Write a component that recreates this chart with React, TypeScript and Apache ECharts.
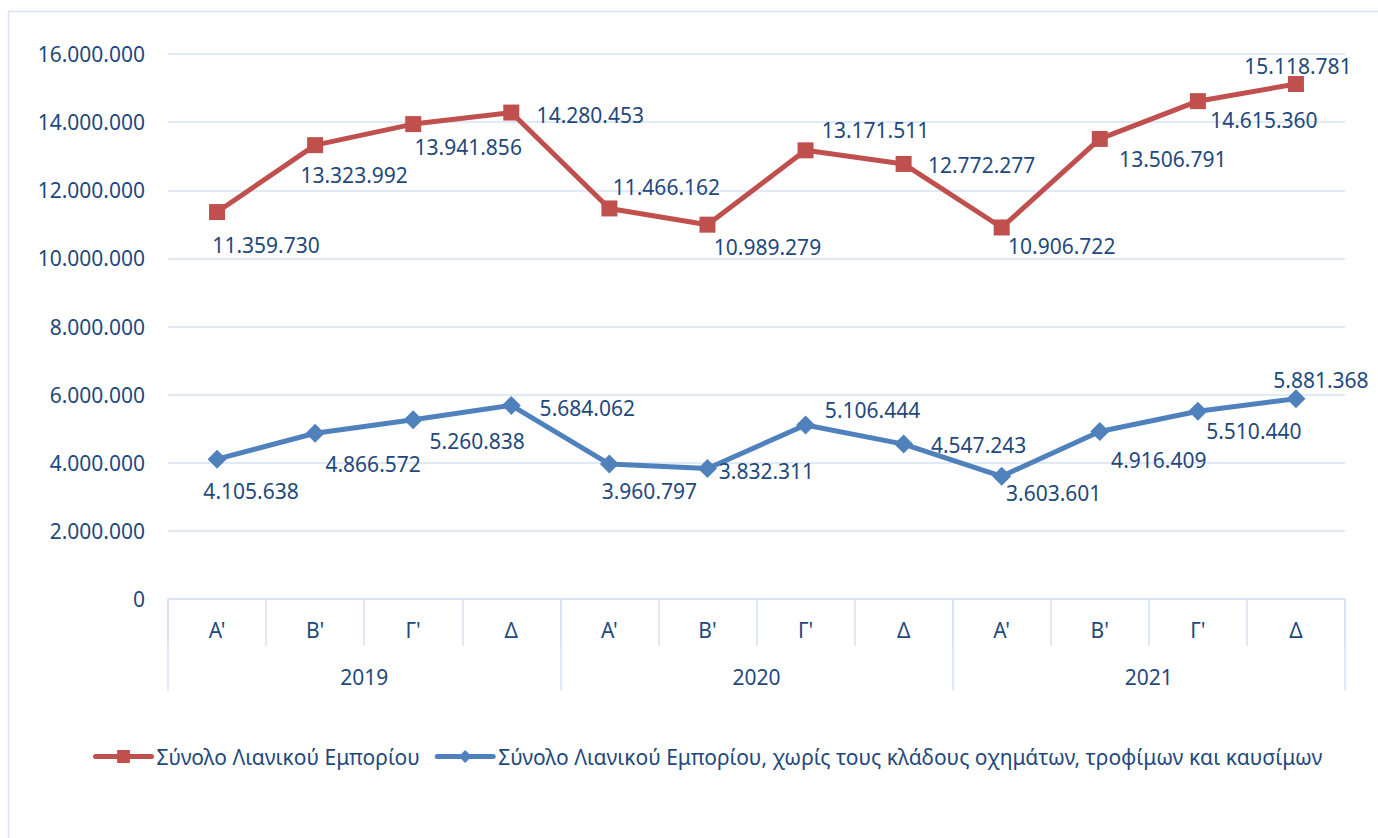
import React, { useEffect, useRef } from "react";
import * as echarts from "echarts";

const quarters = ["Α'", "Β'", "Γ'", "Δ", "Α'", "Β'", "Γ'", "Δ", "Α'", "Β'", "Γ'", "Δ"];
const years = ["2019", "2020", "2021"];
const totalRetail = [11359730, 13323992, 13941856, 14280453, 11466162, 10989279, 13171511, 12772277, 10906722, 13506791, 14615360, 15118781];
const coreRetail = [4105638, 4866572, 5260838, 5684062, 3960797, 3832311, 5106444, 4547243, 3603601, 4916409, 5510440, 5881368];
const seriesNames = [
  "Σύνολο Λιανικού Εμπορίου",
  "Σύνολο Λιανικού Εμπορίου, χωρίς τους κλάδους οχημάτων, τροφίμων και καυσίμων",
];
// label offsets (px) relative to each point
const totalOffsets = [[49, 33], [39, 30], [55, 23], [79, 2], [57, -21], [60, 22], [70, -20], [78, 1], [60, 19], [73, 20], [66, 19], [2, -18]];
const coreOffsets = [[34, 32], [58, 31], [64, 21], [76, 3], [40, 27], [59, 3], [67, -15], [75, 1], [52, 17], [59, 28], [56, 20], [25, -19]];

const FONT = "'Noto Sans', 'Open Sans', sans-serif";
const TXT = "#1F497D";
const GRID = "#D9E2F3";

const fmt = (v: number) => String(Math.round(v)).replace(/\B(?=(\d{3})+(?!\d))/g, ".");

export default function App() {
  const ref = useRef<HTMLDivElement>(null);
  useEffect(() => {
    const chart = echarts.init(ref.current!, undefined, { renderer: "svg" });
    const mk = (vals: number[], offs: number[][]) =>
      vals.map((v, i) => ({ value: v, label: { offset: offs[i] } }));
    chart.setOption({
      animation: false,
      textStyle: { fontFamily: FONT },
      graphic: [
        {
          type: "rect",
          shape: { x: 8.5, y: 11.5, width: 1500, height: 1000 },
          style: { fill: "none", stroke: GRID, lineWidth: 1.5 },
          silent: true,
        },
      ],
      grid: { left: 168, right: 33, top: 54, bottom: 239 },
      legend: {
        left: 88,
        top: 741,
        itemWidth: 56,
        itemHeight: 16,
        itemGap: 15,
        lineStyle: { width: 5, cap: "round" },
        textStyle: { color: TXT, fontSize: 21, fontFamily: FONT },
        data: seriesNames,
      },
      xAxis: [
        {
          type: "category",
          data: quarters,
          boundaryGap: true,
          axisLine: { show: true, lineStyle: { color: GRID, width: 1.5 } },
          axisTick: { show: true, interval: 0, length: 47, lineStyle: { color: GRID, width: 1.5 } },
          axisLabel: { interval: 0, margin: 20, color: TXT, fontSize: 21, fontFamily: FONT },
        },
        {
          type: "category",
          data: years,
          position: "bottom",
          boundaryGap: true,
          axisLine: { show: false },
          axisTick: { show: true, interval: 0, length: 92, lineStyle: { color: GRID, width: 1.5 } },
          axisLabel: { interval: 0, margin: 67, color: TXT, fontSize: 21, fontFamily: FONT },
        },
      ],
      yAxis: {
        type: "value",
        min: 0,
        max: 16000000,
        interval: 2000000,
        axisLine: { show: false },
        axisTick: { show: false },
        splitLine: { lineStyle: { color: GRID, width: 1.5 } },
        axisLabel: { margin: 23, color: TXT, fontSize: 21, fontFamily: FONT, formatter: (v: number) => fmt(v) },
      },
      series: [
        {
          name: seriesNames[0],
          type: "line",
          xAxisIndex: 0,
          data: mk(totalRetail, totalOffsets),
          symbol: "rect",
          symbolSize: 16,
          itemStyle: { color: "#C0504D" },
          lineStyle: { color: "#C0504D", width: 5 },
          label: {
            show: true,
            position: "inside",
            align: "center",
            verticalAlign: "middle",
            color: TXT,
            fontSize: 21,
            fontFamily: FONT,
            formatter: (p: any) => fmt(p.value),
          },
        },
        {
          name: seriesNames[1],
          type: "line",
          xAxisIndex: 0,
          data: mk(coreRetail, coreOffsets),
          symbol: "diamond",
          symbolSize: 19,
          itemStyle: { color: "#4F81BD" },
          lineStyle: { color: "#4F81BD", width: 5 },
          label: {
            show: true,
            position: "inside",
            align: "center",
            verticalAlign: "middle",
            color: TXT,
            fontSize: 21,
            fontFamily: FONT,
            formatter: (p: any) => fmt(p.value),
          },
        },
      ],
    });
    return () => chart.dispose();
  }, []);
  return (
    <div
      ref={ref}
      style={{ position: "fixed", left: 0, top: 0, width: 1378, height: 838, background: "#fff" }}
    />
  );
}
